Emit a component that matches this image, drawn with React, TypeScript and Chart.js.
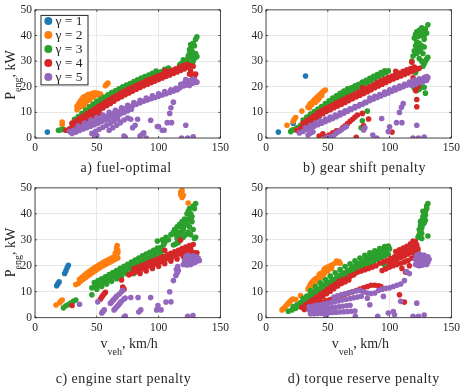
import React, { useEffect, useRef } from "react";
import { Chart, registerables } from "chart.js";

Chart.register(...registerables);

type Pt = [number, number];

const xTickValues = [0, 50, 100, 150];
const yTickValues = [0, 10, 20, 30, 40, 50];
const gammaLabels = ["γ = 1", "γ = 2", "γ = 3", "γ = 4", "γ = 5"];
const gammaColors = ["#1f77b4", "#ff7f0e", "#2ca02c", "#d62728", "#9467bd"];
const captions = ["a) fuel-optimal", "b) gear shift penalty", "c) engine start penalty", "d) torque reserve penalty"];

// ---------- panel a: fuel-optimal ----------
const aG1: Pt[] = [[10, 2.3]];
const aG2: Pt[] = [[22, 6.2], [22, 5.2], [34, 11], [34, 12.4], [35, 13], [36, 13.8], [36, 12], [37, 14.5], [38, 13.2], [38, 15.2], [39, 14], [39, 15.8], [40, 14.8], [40, 16.2], [41, 15.3], [41, 13.6], [42, 16.5], [42, 14.6], [43, 15.8], [43, 17], [44, 16.3], [44, 14.8], [45, 17.2], [45, 15.5], [46, 16.6], [47, 17.5], [47, 15.9], [48, 16.8], [49, 17.6], [50, 16.9], [51, 17.4], [52, 16.8], [53, 17.2], [57, 20.4], [58, 21], [59, 21.4], [39, 12.4]];
const aG3: Pt[] = [[19, 3], [21, 3.2], [23, 3.3],
  [30, 5.5], [33, 6.3], [36, 7.2], [39, 8.3], [42, 9.5], [45, 10.8], [48, 12], [51, 13], [54, 13.8], [57, 14.7], [60, 15.5], [63, 16.3], [66, 17.1], [69, 17.9], [72, 18.7], [75, 19.3], [78, 20], [81, 20.7], [84, 21.4], [87, 22], [90, 22.7], [93, 23.4], [96, 24.2], [99, 25], [102, 25.8], [105, 26.8], [108, 27.3],
  [32, 7.3], [35, 8.4], [38, 9.6], [41, 10.9], [44, 12.2], [47, 13.3], [50, 14.3], [53, 15.1], [56, 16], [59, 16.9], [62, 17.7], [65, 18.4], [68, 19.2], [71, 20], [74, 20.7], [77, 21.3], [80, 22], [83, 22.7], [86, 23.4], [89, 24], [92, 24.6], [95, 25.3], [98, 26.1],
  [113, 26.5], [116, 27], [117, 28.5], [118, 29], [119, 27], [120, 30.5], [121, 28], [122, 30], [123, 30.5], [124, 32], [125, 33], [126, 31.5], [126, 35], [127, 34], [127, 29], [128, 30], [128, 33], [128, 37], [129, 31], [129, 36], [130, 31.5], [130, 33], [130, 38.5], [131, 31.8], [131, 39.5], [125, 34.5], [126, 36.5], [124, 29.5], [122, 27.5]];
const aG4: Pt[] = [[25, 3], [28, 3.6], [31, 4.5], [34, 5.4], [37, 6.3], [40, 7.2], [43, 8.1], [46, 9], [49, 9.9], [52, 10.8], [55, 11.7], [58, 12.6], [61, 13.5], [64, 14.4], [67, 15.3], [70, 16.1], [73, 16.9], [76, 17.6], [79, 18.3], [82, 19], [85, 19.7], [88, 20.4], [91, 21], [94, 21.6], [97, 22.2], [100, 22.8], [103, 23.4], [106, 24], [109, 24.6], [112, 25.2], [115, 25.8], [118, 26.4], [121, 27], [124, 27.6], [126, 28.2], [128, 28],
  [30, 5.8], [33, 6.7], [36, 7.6], [39, 8.6], [42, 9.5], [45, 10.4], [48, 11.3], [51, 12.2], [54, 13.1], [57, 14], [60, 14.9], [63, 15.8], [66, 16.6], [69, 17.4], [72, 18.2], [75, 18.9], [78, 19.6], [81, 20.3], [84, 21], [87, 21.6], [90, 22.3], [93, 22.9], [96, 23.5], [99, 24.1], [102, 24.7], [105, 25.3], [108, 25.9], [111, 26.4], [114, 27], [117, 27.6], [120, 28.3], [123, 28.8],
  [125, 25], [127, 24.5], [129, 24], [130, 25], [128, 23.5], [126, 26], [105, 26.2], [38, 6], [41, 6.5], [44, 7], [36, 4.8], [48, 8.5], [52, 9.5]];
const aG5: Pt[] = [[28, 2.5], [31, 3], [34, 3.6], [37, 4.2], [40, 4.8], [43, 5.4], [46, 6], [49, 6.6], [52, 7.2], [55, 7.8], [58, 8.4], [61, 9], [64, 9.6], [67, 10.2], [70, 10.8], [73, 11.4], [76, 12], [79, 12.6], [82, 13.2], [85, 13.8], [88, 14.3], [91, 14.8], [94, 15.3], [97, 15.8], [100, 16.3], [103, 16.8], [106, 17.3], [109, 17.8], [112, 18.3], [115, 18.8], [117, 19.5],
  [30, 1.8], [33, 2.3], [36, 2.9], [39, 3.5], [42, 4], [45, 4.6], [48, 5.2], [51, 5.8], [54, 6.4], [57, 7], [60, 7.6], [63, 8.2], [66, 8.8], [69, 9.4], [72, 10], [75, 10.6], [78, 11.2],
  [35, 4.7], [40, 5.8], [45, 7], [50, 8], [55, 9], [60, 10], [65, 10.8], [70, 11.8], [75, 12.8], [80, 13.8], [85, 14.7], [90, 15.6], [95, 16.5], [100, 17.3], [105, 18.1], [110, 18.8], [114, 19.4],
  [46, 1.8], [49, 2.6], [52, 3.4], [55, 4.2], [58, 5], [61, 5.8], [64, 6.6], [67, 7.4], [60, 3], [63, 4], [66, 5], [69, 6], [72, 7], [75, 7.8], [48, 0], [49, 0.5], [50, 1], [72, 0.8], [73, 0.3],
  [77.5, 7.3], [83, 7.3], [93.6, 6.9], [79, 4], [81, 5], [85, 0.8], [87, 1.5], [88, 2], [90, 0], [99, 4.5], [100, 4.5], [103, 3], [104.5, 3], [107, 6], [110.5, 6], [109, 9.6], [110, 11.8], [112, 14], [122, 5], [118.6, 0], [123.5, 0], [128, 0.5],
  [118, 21], [120, 20.3], [121, 21.5], [122, 20.6], [122, 22.8], [123, 22], [124, 21], [125, 22.3], [125, 20.5], [126, 21.2], [127, 22.5], [128, 21.5], [128, 23], [129, 22.8], [130, 22], [131, 21.8]];

// ---------- panel b: gear shift penalty ----------
const bG1: Pt[] = [[10, 2.3], [22, 5.8], [32, 24.2]];
const bG2: Pt[] = [[17, 5], [22, 6.5], [23, 7.4], [24, 8], [29, 10.5], [34, 12], [35, 12.8], [36, 13.5], [37, 13], [38, 14.2], [39, 14.8], [40, 15.2], [40, 14], [41, 15.8], [42, 16.2], [43, 15.5], [43, 16.7], [44, 17.1], [45, 17.5], [46, 18], [47, 18.4], [48, 18.7], [45, 16.5], [42, 14.8], [35, 11.8]];
const bG3: Pt[] = [[20, 2.5], [21, 3],
  [22, 3.2], [25, 4], [28, 5], [31, 6], [34, 7], [37, 8], [40, 9], [43, 10], [46, 11], [49, 12], [52, 13], [55, 14], [58, 15], [61, 16], [64, 17], [67, 17.8], [70, 18.6], [73, 19.3], [76, 20], [79, 20.7], [82, 21.5], [85, 22.3], [88, 23.1], [91, 23.9], [94, 24.7], [97, 25.5], [99, 26.2],
  [30, 7], [33, 8.2], [36, 9.3], [39, 10.3], [42, 11.3], [45, 12.3], [48, 13.4], [51, 14.5], [54, 15.6], [57, 16.5], [60, 17.4], [63, 18.3], [66, 19.2], [69, 19.6], [72, 20.4], [75, 21], [78, 21.8], [81, 22.5], [84, 23.3], [87, 24.1], [90, 24.8], [93, 25.5], [96, 26.2],
  [28, 3.8], [31, 4.6], [34, 5.6], [37, 6.6], [40, 7.6], [43, 8.6], [46, 9.6],
  [77, 4], [78, 6.7], [82, 10.5],
  [120, 39], [121, 40.5], [122, 41.5], [123, 39.5], [124, 42], [125, 40], [126, 43], [127, 41.5], [128, 40], [129, 42.5], [130, 41], [131, 44.2], [128, 38.5], [118, 30], [119, 32], [120, 34], [121, 36], [122, 33], [122, 37.5], [123, 35], [124, 31], [124, 37], [125, 34], [126, 36], [127, 33], [128, 35.5], [126, 30], [127, 28], [128, 29], [129, 30], [130, 30.8], [131, 31.5], [123, 27], [121, 25.5], [120, 19.5], [122, 18.5], [124, 19], [126, 20], [128, 19.8], [129, 17.5]];
const bG4: Pt[] = [[25, 3], [28, 3.8], [31, 4.8], [34, 5.8], [37, 6.8], [40, 7.8], [43, 8.7], [46, 9.6], [49, 10.4], [52, 11], [55, 11.8], [58, 12.5], [61, 13.2], [64, 13.9], [67, 14.6], [70, 15.3], [73, 16], [76, 16.7], [79, 17.4], [82, 18.1], [85, 18.8], [88, 19.6], [91, 20.3], [94, 21], [97, 21.7], [100, 22.4], [103, 23], [106, 23.6], [109, 24.2], [112, 24.8], [115, 25.4], [118, 26], [121, 26.6], [124, 27.2],
  [30, 5.8], [33, 6.8], [36, 7.8], [39, 8.8], [42, 9.8], [45, 10.7], [48, 11.5], [51, 12.2], [54, 13], [57, 13.7], [60, 14.4], [63, 15.1], [66, 15.8], [69, 16.5], [72, 17.2], [75, 17.9], [78, 18.6], [81, 19.3], [84, 20], [87, 20.8], [90, 21.6], [93, 22.3], [96, 23], [99, 23.6], [102, 24.2], [105, 24.8], [108, 25.4], [111, 26], [114, 26.6], [117, 27.1], [120, 27.7],
  [60, 3], [62, 4], [64, 4.8], [66, 5.6], [68, 6.5], [70, 7.3], [72, 8.2], [74, 9], [48, 0.5], [51, 1.2], [54, 2], [57, 2.8], [43, 0.8], [46, 1.6],
  [73, 0.3], [83, 7.4], [79, 4.8], [78, 9.6], [102, 2.3], [105, 26], [118, 29.6], [122, 15], [122, 12.2], [121, 18.5], [123, 20], [119, 23.5], [78, 19.6]];
const bG5: Pt[] = [[27, 2], [30, 2.6], [33, 3.3], [36, 4], [39, 4.6], [42, 5.2], [45, 5.8], [48, 6.4], [51, 7], [54, 7.6], [57, 8.3], [60, 9], [63, 9.7], [66, 10.4], [69, 11.1], [72, 11.8], [75, 12.5], [78, 13.2], [81, 13.9], [84, 14.6], [87, 15.2], [90, 15.8], [93, 16.4], [96, 17], [99, 17.6], [102, 18.2], [105, 18.8], [108, 19.4], [111, 20], [114, 20.6], [117, 21.2], [120, 21.8], [123, 22.3], [126, 22.8], [129, 23.2], [131, 23.6],
  [32, 4], [36, 5], [40, 5.8], [44, 6.6], [48, 7.4], [52, 8.2], [56, 9], [60, 9.8], [64, 10.6], [68, 11.4], [72, 12.3], [76, 13.1], [80, 13.9], [84, 15.6], [88, 16.3], [92, 17], [96, 17.9], [100, 18.8], [104, 19.6], [108, 20.3], [112, 21], [116, 21.8], [120, 22.6], [124, 23.1], [128, 23.6], [130, 24],
  [118, 20.5], [121, 21], [124, 21.6], [127, 22], [130, 22.5],
  [34, 1.2], [36, 2], [38, 2.4], [48.4, 0], [50, 0.3], [53, 0.5], [55, 1.2], [57, 2], [59, 2.6], [61, 3.2], [63, 3.9], [65, 4.5],
  [93.6, 7.6], [100, 4.4], [99, 2.5], [105.6, 6], [110, 6], [108, 10], [109.6, 12], [111, 13.4], [122, 5], [119, 0], [123.4, 0], [128, 0.4], [89.6, 0], [86.4, 1.2], [79, 3.1], [80, 4]];

// ---------- panel c: engine start penalty ----------
const cG1: Pt[] = [[17.5, 12.3], [18.5, 13.1], [19.5, 13.8], [24, 17], [25, 18.1], [26, 19.2], [27, 20.2]];
const cG2: Pt[] = [[17, 4.9], [20, 5.8], [21, 6.4], [22, 6.8],
  [33, 12.8], [35, 13.2], [37, 14], [39, 14.8], [41, 15.5], [43, 16.2], [45, 16.8], [47, 17.5], [49, 18.2], [51, 18.8], [53, 19.4], [55, 20], [57, 20.5], [59, 21], [61, 21.5], [63, 22], [65, 22.5], [67, 23],
  [36, 14.8], [38, 15.6], [40, 16.4], [42, 17.2], [44, 17.9], [46, 18.5], [48, 19.2], [50, 19.8], [52, 20.4], [54, 21], [56, 21.5], [58, 22], [60, 22.5], [62, 23], [64, 23.5], [66, 24],
  [65, 24.8], [66, 25.5], [67, 26], [66, 26.8], [66.5, 27.8], [67, 25], [65, 23.5],
  [118, 48.5], [119, 49], [118, 47.4], [119, 46.3], [120, 47.2], [124, 44.2]];
const cG3: Pt[] = [[23, 3.8], [25, 4.6], [27, 5.1], [29, 5.6], [31, 6.3], [33, 6.8], [46, 8.8],
  [46, 11.5], [49, 12.2], [52, 13], [55, 13.7], [58, 14.5], [61, 15.2], [64, 16], [67, 16.8], [70, 17.5], [73, 18.3], [76, 19], [79, 19.8], [82, 20.5], [85, 21.3], [88, 22], [91, 22.8], [94, 23.5], [97, 24.3], [100, 25], [103, 25.8],
  [48, 13.5], [51, 14.3], [54, 15], [57, 15.8], [60, 16.6], [63, 17.4], [66, 18.2], [69, 19], [72, 19.8], [75, 20.6], [78, 21.4], [81, 22.2], [84, 23], [87, 23.8], [90, 24.5], [93, 25.2], [96, 26], [99, 26.8],
  [50, 11], [54, 12], [58, 13], [62, 14], [66, 15], [70, 16], [74, 17], [78, 18], [82, 19], [86, 20], [90, 21], [94, 22], [98, 23], [102, 24],
  [80, 17], [99, 29.5], [104, 29.3],
  [100, 26.5], [102, 27], [104, 28], [103, 30], [105, 29], [106, 31], [108, 30], [110, 32], [112, 33], [114, 32], [113, 34], [115, 35], [116, 33], [117, 36], [118, 35], [119, 37], [120, 34], [121, 38], [122, 36], [123, 40], [124, 38], [125, 42], [126, 40], [127, 37], [128, 34], [129, 30.5], [130, 31], [126, 32], [124, 33], [122, 32], [120, 31], [118, 30], [116, 29], [114, 28.5], [112, 28], [125, 35], [127, 39], [129, 42], [130, 44], [128, 43], [126, 39], [123, 36.5], [124, 41], [121, 35.5], [119, 33], [117, 31.5], [115, 30.5]];
const cG4: Pt[] = [[30, 4.7], [53, 7.2], [54, 8], [55, 8.6], [56, 9.2], [57, 9.8], [70, 14.5], [71, 11.8], [72, 11],
  [78, 17], [81, 17.6], [84, 18.2], [87, 18.8], [90, 19.4], [93, 20], [96, 20.5], [99, 21], [102, 21.6], [105, 22.2], [108, 22.8], [111, 23.4], [114, 24], [117, 24.6], [120, 25.2], [123, 25.8], [126, 26.4], [129, 25],
  [80, 18.8], [83, 19.4], [86, 20], [89, 20.6], [92, 21.2], [95, 21.8], [98, 22.4], [101, 23], [104, 23.6], [107, 24.2], [110, 24.8], [113, 25.4], [116, 26], [119, 26.6], [122, 27.2], [125, 27.8], [128, 28.2],
  [85, 17], [90, 18], [95, 19], [100, 19.8], [105, 20.8], [110, 21.8], [115, 22.6], [120, 23.6], [125, 24.8], [130, 23.8], [131, 25],
  [105, 26], [117.6, 29.9], [76, 16.5]];
const cG5: Pt[] = [[36, 5.2], [50.8, 6.1], [54, 1.8], [55, 2.4], [56, 3], [61, 5.5], [62, 6], [63, 6.6], [64, 7.1], [65, 7.7], [66, 8.2], [68, 9], [70, 10], [71, 10.6], [64, 3], [65, 3.5], [66, 4.1], [67, 4.6], [68, 5.2], [69, 5.8], [70, 6.3], [72, 7.2], [73, 7.6], [72, 0.2], [73, 0.6],
  [77.5, 7.8], [83.4, 7.8], [93.6, 7.8], [85.6, 3], [84, 2.2], [99.5, 4.7], [98.4, 3], [102, 3], [106, 6], [110, 6.1], [109, 10], [112, 14.3], [114, 16.3], [115, 17.2], [116, 18.2], [114.4, 18.6], [115.5, 19.7], [123.5, 0.5], [127.8, 0.8],
  [120, 20.5], [121, 22], [122, 23.5], [122, 21], [123, 20.3], [124, 22.5], [124, 24], [125, 21], [126, 23], [126, 20.5], [127, 22], [128, 23.8], [128, 21], [129, 22.5], [130, 21.5], [130, 23.5], [131, 22.5], [132, 23], [133, 22]];

// ---------- panel d: torque reserve penalty ----------
const dG1: Pt[] = [];
const dG2: Pt[] = [[13, 3], [14, 3.5], [15, 3.8], [16, 4.5], [17, 5], [18, 5.5], [19, 6], [20, 6.5], [21, 7], [22, 7.2], [24, 7], [28, 8.5],
  [34, 11], [35, 12], [36, 13], [37, 13.5], [38, 14], [39, 14.5], [40, 15], [42, 15.5], [43, 16.5], [44, 17], [46, 17.5], [47, 18.5], [48, 19], [50, 19.5], [52, 20], [54, 20.5], [56, 21], [58, 21.3], [60, 21],
  [36, 11.5], [38, 12.5], [41, 14], [44, 15.5], [47, 16.8], [50, 18], [53, 19], [57, 21.8], [59, 21.6]];
const dG3: Pt[] = [[18, 2.5], [21, 3], [24, 3.6], [27, 4.3], [30, 5], [33, 5.8], [36, 6.6], [39, 7.4], [42, 8.2], [45, 9], [48, 9.9], [51, 10.8], [54, 11.7], [57, 12.6], [60, 13.5], [63, 14.4], [66, 15.3], [69, 16.2], [72, 17.1], [75, 18], [78, 18.9], [81, 19.8], [84, 20.7], [87, 21.6], [90, 22.4], [93, 23.2], [96, 23.8], [99, 24.3],
  [22, 4.3], [25, 5], [28, 5.8], [31, 6.6], [34, 7.4], [37, 8.3], [40, 9.1], [43, 10], [46, 10.9], [49, 11.8], [52, 12.7], [55, 13.6], [58, 14.5], [61, 15.4], [64, 16.3], [67, 17.2], [70, 18.1], [73, 19], [76, 19.9], [79, 20.8], [82, 21.7], [85, 22.6], [88, 23.5], [91, 24.3], [94, 25.1], [97, 25.8], [100, 26.5],
  [30, 7.5], [33, 8.3], [36, 9.2], [39, 10.1], [42, 11], [45, 11.9], [48, 12.8], [51, 13.7], [54, 14.6], [57, 15.5], [60, 16.4], [63, 17.3], [66, 18.2], [69, 19.1], [72, 20], [75, 20.9], [78, 21.8], [81, 22.7], [84, 23.6], [87, 24.5], [90, 25.4], [93, 26.2], [96, 27], [99, 27.6],
  [36, 10.5], [40, 12], [44, 13.4], [48, 14.7], [52, 16], [56, 17.3], [60, 18.5], [64, 19.7], [68, 20.8], [72, 21.9], [76, 23], [80, 24], [84, 25], [88, 25.8], [92, 26.6], [96, 27.4],
  [96, 20.2],
  [131, 44], [130, 42], [129, 41], [128, 40.5], [127, 39], [128, 38], [126, 37.5], [127, 36], [125, 35.5], [126, 34.5], [124, 34], [125, 33], [126, 32.5], [124, 32], [126, 30.5], [131, 31.5], [123, 31], [125, 37], [129, 39.5], [128, 36.5], [130, 43], [127, 41], [129, 37.5]];
const dG4: Pt[] = [[29, 4], [32, 5], [35, 6], [38, 7], [41, 8], [44, 9], [47, 10], [50, 11], [53, 12], [56, 13], [59, 14], [62, 14.5], [65, 15], [68, 16], [71, 16.5], [74, 17.5], [77, 18], [80, 18.5], [83, 19], [86, 19.5], [89, 20], [92, 21], [95, 21.5], [98, 22],
  [31, 3.2], [34, 4.2], [37, 5.2], [40, 6.2], [43, 7.2], [46, 8.2], [49, 9.2], [52, 10.2], [55, 11.2], [58, 12.2], [61, 13.2], [64, 13.8], [67, 14.5],
  [40, 5], [43, 5.5], [46, 6], [49, 6.5], [52, 7], [55, 7.5], [58, 8], [61, 8.5], [64, 9], [67, 9.5], [70, 10], [73, 10.5], [76, 11], [79, 11.5], [82, 12], [85, 12.5], [88, 12.5], [91, 12.3], [93, 12],
  [100, 19.5], [103, 20], [106, 20.5], [109, 21], [112, 21.5], [115, 22], [118, 23], [121, 24], [123, 25],
  [100, 21], [103, 21.8], [106, 22.5], [109, 23.2], [112, 23.8], [115, 24.5], [118, 25.2], [121, 26], [123, 26.5],
  [101, 22.8], [104, 23.5], [107, 24.3], [110, 25], [113, 25.7], [116, 26.4], [119, 27.2], [122, 28],
  [105, 25.5], [108, 26.2], [111, 26.8], [114, 27.5], [117, 28.5], [119, 29.5], [121, 29.2],
  [97, 18.8], [94, 18.2], [110, 19], [116, 20], [113, 17.5], [108, 8.8], [112, 6]];
const dG5: Pt[] = [[36, 1.5], [39, 1.5], [42, 1.6], [45, 1.7], [48, 1.8], [51, 1.9], [54, 2], [57, 2.1], [60, 2.2], [63, 2.3], [66, 2.4], [69, 2.5], [72, 2.6],
  [35, 3], [38, 3.2], [41, 3.3], [44, 3.4], [47, 3.5], [50, 3.7], [53, 3.8], [56, 4], [59, 4.2], [62, 4.4], [65, 4.6], [68, 4.8],
  [35, 4.2], [38, 4.5], [41, 4.8], [44, 5], [47, 5.3], [50, 5.6], [53, 5.9], [56, 6.2], [59, 6.5], [62, 6.8], [65, 7.1], [68, 7.4], [71, 7.7], [74, 8], [77, 8.3],
  [55, 8], [58, 8.4], [61, 8.8], [64, 9.2], [67, 9.6], [70, 10], [73, 10.3], [76, 10.6], [79, 10], [82, 9.5], [85, 9.3],
  [88, 9.5], [91, 10.5], [94, 11], [97, 11.3], [100, 11.5], [103, 12], [106, 12.5], [109, 13], [112, 14.3],
  [95, 8.2], [82, 7.5], [84, 5], [103, 2.4], [104, 1.1], [99, 1.8], [109, 6.3], [122, 5.6], [119, 0.5], [123.4, 0.5], [128, 1], [90.4, 0.5], [72.3, 0.5], [48.4, 0.5], [113.6, 17.8], [116, 17],
  [121, 20.5], [121, 22.5], [122, 24], [123, 21], [123, 23], [124, 20], [124, 22], [124, 24.5], [125, 21], [125, 23], [126, 20.2], [126, 22], [126, 24], [127, 21], [127, 23], [128, 20.5], [128, 22.3], [128, 24], [129, 21.2], [129, 23.2], [130, 20.5], [130, 22.5], [131, 21.5], [131, 23.5], [132, 22.5], [122, 21.8], [123, 20.2]];

const FONT = "'Liberation Serif', 'Times New Roman', serif";
const TXT = "#262626";
const GRID = "#e2e2e2";

type Part = [string, boolean];

function drawRich(ctx: CanvasRenderingContext2D, parts: Part[], cx: number, cy: number, size: number, rotate: boolean, subDrop: number) {
  ctx.save();
  ctx.translate(cx, cy);
  if (rotate) ctx.rotate(-Math.PI / 2);
  const mainF = `${size}px ${FONT}`;
  const subF = `${Math.round(size * 0.72)}px ${FONT}`;
  let total = 0;
  const widths = parts.map(([t, sub]) => {
    ctx.font = sub ? subF : mainF;
    const w = ctx.measureText(t).width;
    total += w;
    return w;
  });
  let x = -total / 2;
  ctx.textAlign = "left";
  ctx.textBaseline = "alphabetic";
  ctx.fillStyle = TXT;
  parts.forEach(([t, sub], i) => {
    ctx.font = sub ? subF : mainF;
    ctx.fillText(t, x, sub ? size * 0.35 + subDrop : size * 0.35);
    x += widths[i];
  });
  ctx.restore();
}

interface PanelProps {
  left: number; top: number; width: number; height: number;
  yAxisW: number; padTop: number; padRight: number; xAxisH: number;
  series: Pt[][]; caption: string; capX: number; capY: number;
  yLabelY?: number; xLabel?: { x: number; y: number }; legend?: boolean;
}

function Panel(p: PanelProps) {
  const ref = useRef<HTMLCanvasElement>(null);
  useEffect(() => {
    const canvas = ref.current!;
    const decor = {
      id: "decor",
      afterDraw(chart: any) {
        const ctx: CanvasRenderingContext2D = chart.ctx;
        const ca = chart.chartArea;
        const xs = chart.scales.x, ys = chart.scales.y;
        ctx.save();
        ctx.strokeStyle = TXT;
        ctx.lineWidth = 0.8;
        ctx.beginPath();
        for (const v of xTickValues) {
          const px = xs.getPixelForValue(v);
          ctx.moveTo(px, ca.bottom); ctx.lineTo(px, ca.bottom - 2);
          ctx.moveTo(px, ca.top); ctx.lineTo(px, ca.top + 2);
        }
        for (const v of yTickValues) {
          const py = ys.getPixelForValue(v);
          ctx.moveTo(ca.left, py); ctx.lineTo(ca.left + 2, py);
          ctx.moveTo(ca.right, py); ctx.lineTo(ca.right - 2, py);
        }
        ctx.stroke();
        ctx.strokeRect(ca.left, ca.top, ca.right - ca.left, ca.bottom - ca.top);

        if (p.legend) {
          const bx = ca.left + 6, by = ca.top + 5.5, bw = 47, bh = 69.5;
          ctx.fillStyle = "#ffffff";
          ctx.fillRect(bx, by, bw, bh);
          ctx.strokeStyle = TXT;
          ctx.lineWidth = 1;
          ctx.strokeRect(bx, by, bw, bh);
          gammaLabels.forEach((lab, i) => {
            const cy = by + 5.7 + 14 * i;
            ctx.beginPath();
            ctx.fillStyle = gammaColors[i];
            ctx.arc(bx + 7.3, cy, 4, 0, Math.PI * 2);
            ctx.fill();
            ctx.fillStyle = TXT;
            ctx.font = `13.5px ${FONT}`;
            ctx.textAlign = "left";
            ctx.textBaseline = "middle";
            ctx.fillText(lab, bx + 14.5, cy + 0.5);
          });
        }
        if (p.yLabelY !== undefined) {
          drawRich(ctx, [["P", false], ["eng", true], [", kW", false]], 10, p.yLabelY, 14, true, 5.8);
        }
        if (p.xLabel) {
          drawRich(ctx, [["v", false], ["veh", true], [", km/h", false]], p.xLabel.x, p.xLabel.y, 14, false, 7);
        }
        ctx.fillStyle = TXT;
        ctx.font = `14px ${FONT}`;
        (ctx as any).letterSpacing = "0.5px";
        ctx.textAlign = "center";
        ctx.textBaseline = "alphabetic";
        ctx.fillText(p.caption, p.capX, p.capY);
        (ctx as any).letterSpacing = "0px";
        ctx.restore();
      },
    };
    const chart = new Chart(canvas, {
      type: "scatter",
      data: {
        datasets: p.series.map((pts, i) => ({
          label: gammaLabels[i],
          data: pts.map(([x, y]) => ({ x, y })),
          backgroundColor: gammaColors[i],
          borderColor: gammaColors[i],
          pointRadius: 2.8,
          pointBorderWidth: 0,
          pointHoverRadius: 2.8,
          order: 4 - i,
        })),
      },
      options: {
        responsive: false,
        animation: false,
        devicePixelRatio: 1,
        events: [],
        layout: { padding: { left: 0, top: p.padTop, right: p.padRight, bottom: 0 } },
        plugins: { legend: { display: false }, tooltip: { enabled: false }, title: { display: false } },
        scales: {
          x: {
            type: "linear", min: 0, max: 150,
            afterBuildTicks: (s: any) => { s.ticks = xTickValues.map((v) => ({ value: v })); },
            afterFit: (s: any) => { s.height = p.xAxisH; },
            ticks: { color: TXT, font: { family: FONT, size: 11.5 }, padding: 3, maxRotation: 0, autoSkip: false },
            grid: { color: GRID, lineWidth: 0.8, drawTicks: false },
            border: { display: false },
          },
          y: {
            type: "linear", min: 0, max: 50,
            afterBuildTicks: (s: any) => { s.ticks = yTickValues.map((v) => ({ value: v })); },
            afterFit: (s: any) => { s.width = p.yAxisW; },
            ticks: { color: TXT, font: { family: FONT, size: 11.5 }, padding: 3, autoSkip: false },
            grid: { color: GRID, lineWidth: 0.8, drawTicks: false },
            border: { display: false },
          },
        },
      } as any,
      plugins: [decor],
    });
    return () => chart.destroy();
  }, []);
  return (
    <canvas
      ref={ref}
      width={p.width}
      height={p.height}
      style={{ position: "absolute", left: p.left, top: p.top, width: p.width, height: p.height }}
    />
  );
}

export default function App() {
  return (
    <div style={{ position: "fixed", left: 0, top: 0, width: 463, height: 389, background: "#ffffff", overflow: "hidden" }}>
      <Panel left={0} top={0} width={232} height={178} yAxisW={35} padTop={9} padRight={10} xAxisH={40}
        series={[aG1, aG2, aG3, aG4, aG5]} caption={captions[0]} capX={126} capY={171.7} yLabelY={75} legend />
      <Panel left={232} top={0} width={231} height={178} yAxisW={34} padTop={9} padRight={9} xAxisH={40}
        series={[bG1, bG2, bG3, bG4, bG5]} caption={captions[1]} capX={132.5} capY={171.7} />
      <Panel left={0} top={178} width={232} height={211} yAxisW={35} padTop={9.2} padRight={10} xAxisH={71.3}
        series={[cG1, cG2, cG3, cG4, cG5]} caption={captions[2]} capX={123.5} capY={205}
        yLabelY={74.5} xLabel={{ x: 129.2, y: 165.5 }} />
      <Panel left={232} top={178} width={231} height={211} yAxisW={34} padTop={9.2} padRight={9} xAxisH={71.3}
        series={[dG1, dG2, dG3, dG4, dG5]} caption={captions[3]} capX={131.7} capY={205}
        xLabel={{ x: 128.3, y: 165.5 }} />
    </div>
  );
}
